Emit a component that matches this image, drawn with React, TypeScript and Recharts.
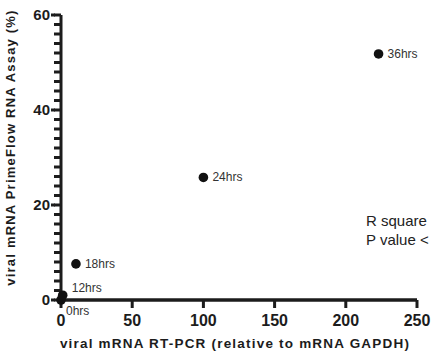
import React from 'react';
import { ScatterChart, Scatter, XAxis, YAxis, LabelList, Label } from 'recharts';

const timeLabels = ['0hrs', '12hrs', '18hrs', '24hrs', '36hrs'];
const rtPcrValues = [0, 1.2, 10.5, 100, 223];
const primeFlowValues = [0, 1.0, 7.6, 25.8, 51.8];
const xTicks = [0, 50, 100, 150, 200, 250];
const yTicks = [0, 2, 4, 6, 8, 10, 12, 14, 16, 18, 20, 22, 24, 26, 28, 30, 32, 34, 36, 38, 40, 42, 44, 46, 48, 50, 52, 54, 56, 58, 60];
const statLines = ['R square', 'P value <'];

const data = timeLabels.map((t, i) => ({ name: t, x: rtPcrValues[i], y: primeFlowValues[i] }));

const AXIS = '#1c1c1c';
const FONT = 'Liberation Sans, Arial, Helvetica, sans-serif';
const Y_TICK_SIZE = 7;
const Y_TICK_MARGIN = 2;

const renderYTick = (props: any) => {
  const { x, y, payload } = props;
  const v = payload.value as number;
  if (v % 20 !== 0) return <g />;
  const axisX = x + Y_TICK_SIZE + Y_TICK_MARGIN;
  return (
    <g>
      <rect x={axisX - 10} y={y - 1.5} width={4} height={3} fill={AXIS} />
      <text x={axisX - 11} y={y} dy={5} textAnchor="end" fontFamily={FONT} fontWeight="bold" fontSize={15} fill={AXIS}>
        {v}
      </text>
    </g>
  );
};

const renderXTick = (props: any) => {
  const { x, y, payload } = props;
  return (
    <text x={x} y={y + 16} textAnchor="middle" fontFamily={FONT} fontWeight="bold" fontSize={16} fill={AXIS}>
      {payload.value}
    </text>
  );
};

const PointLabel = (props: any) => {
  const { value, viewBox } = props;
  const vb = viewBox || { x: props.x, y: props.y, width: 0, height: 0 };
  const cx = vb.x + (vb.width || 0) / 2;
  const cy = vb.y + (vb.height || 0) / 2;
  const below = value === '0hrs';
  const up = value === '12hrs';
  return (
    <text x={cx + (below ? 5 : 9)} y={cy + (below ? 11 : up ? -7 : 0)} dy={4} fontFamily={FONT} fontSize={12} fill="#333">
      {value}
    </text>
  );
};

export default function App() {
  return (
    <div style={{ position: 'absolute', left: 0, top: 0, width: 432, height: 354, background: '#fff', overflow: 'hidden' }}>
      <ScatterChart width={432} height={354} margin={{ top: 15, right: 15, bottom: 0, left: 0 }}>
        <XAxis
          type="number"
          dataKey="x"
          domain={[0, 250]}
          ticks={xTicks}
          interval={0}
          height={54}
          axisLine={{ stroke: AXIS, strokeWidth: 3.5 }}
          tickLine={{ stroke: AXIS, strokeWidth: 3 }}
          tickSize={8}
          tickMargin={2}
          tick={renderXTick}
        >
          <Label
            value="viral mRNA RT-PCR (relative to mRNA GAPDH)"
            position="insideBottom"
            offset={6}
            dx={-4}
            style={{ fontFamily: FONT, fontWeight: 'bold', fontSize: 13.5, fill: AXIS, letterSpacing: 1.2 }}
          />
        </XAxis>
        <YAxis
          type="number"
          dataKey="y"
          domain={[0, 60]}
          ticks={yTicks}
          interval={0}
          width={61}
          axisLine={{ stroke: AXIS, strokeWidth: 3 }}
          tickLine={{ stroke: AXIS, strokeWidth: 3 }}
          tickSize={Y_TICK_SIZE}
          tickMargin={Y_TICK_MARGIN}
          tick={renderYTick}
        >
          <Label
            value="viral mRNA PrimeFlow  RNA Assay (%)"
            angle={-90}
            position="insideLeft"
            offset={0}
            dx={10}
            dy={-10}
            style={{ fontFamily: FONT, fontWeight: 'bold', fontSize: 13, fill: AXIS, textAnchor: 'middle', whiteSpace: 'pre', letterSpacing: 1.2 }}
          />
        </YAxis>
        <Scatter data={data} fill="#111" isAnimationActive={false} shape={(p: any) => <circle cx={p.cx} cy={p.cy} r={4.8} fill="#111" />}>
          <LabelList dataKey="name" content={<PointLabel />} />
        </Scatter>
        <text x={366} y={226} fontFamily={FONT} fontSize={15} fill="#222">{statLines[0]}</text>
        <text x={366} y={245} fontFamily={FONT} fontSize={15} fill="#222">{statLines[1]}</text>
      </ScatterChart>
    </div>
  );
}
